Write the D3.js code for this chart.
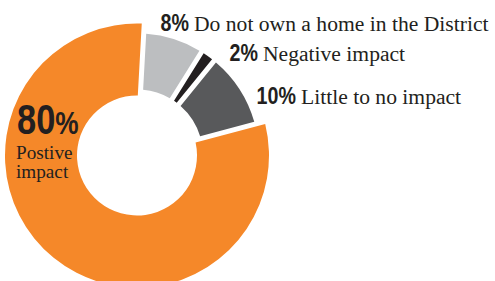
<!DOCTYPE html>
<html>
<head>
<meta charset="utf-8">
<script src="https://cdn.jsdelivr.net/npm/d3@7"></script>
<style>
  html, body { margin: 0; padding: 0; background: #fff; }
  svg { display: block; }
</style>
</head>
<body>
<svg id="chart" width="495" height="281"></svg>
<script>
// ---- data ----
const categories = ["Do not own a home in the District", "Negative impact", "Little to no impact", "Postive impact"];
const values = [8, 2, 10, 80];
const percentLabels = values.map(v => v + "%");

// ---- style / layout ----
const colors = ["#BCBEC0", "#231F20", "#58595B", "#F58829"];
const cx = 137, cy = 155.5;
const startOffset = 0.055;
const textColor = "#231F20";
const boldFont = "'Liberation Sans', Arial, sans-serif";
const narrow = 0.82;
const serifFont = "'Liberation Serif', 'Times New Roman', serif";

const svg = d3.select("#chart");
const g = svg.append("g").attr("transform", `translate(${cx},${cy})`);

const pie = d3.pie().sort(null).value(d => d)
  .startAngle(startOffset).endAngle(startOffset + 2 * Math.PI);
const arcs = pie(values);

const arcBig = d3.arc().innerRadius(60).outerRadius(132).padAngle(0.05).padRadius(100);
const arcSmall = d3.arc().innerRadius(66).outerRadius(122).padAngle(0.05).padRadius(100);

g.selectAll("path.slice")
  .data(arcs)
  .join("path")
  .attr("class", "slice")
  .attr("fill", (d, i) => colors[i])
  .attr("d", (d, i) => (i === 3 ? arcBig(d) : arcSmall(d)));

// ---- labels for the three small slices ----
const labelLayout = [
  { x: 194, y: 31 },
  { x: 263, y: 61 },
  { x: 301, y: 104 }
];
labelLayout.forEach((p, i) => {
  svg.append("text")
    .attr("transform", `translate(${p.x - 5},${p.y}) scale(${narrow},1)`)
    .attr("text-anchor", "end")
    .attr("font-family", boldFont)
    .attr("font-weight", "bold")
    .attr("font-size", 24)
    .attr("fill", textColor)
    .text(percentLabels[i]);
  svg.append("text")
    .attr("x", p.x).attr("y", p.y)
    .attr("font-family", serifFont)
    .attr("font-size", 21.6)
    .attr("fill", textColor)
    .text(categories[i]);
});

// ---- big label ----
const big = svg.append("text")
  .attr("transform", `translate(17,134) scale(${narrow},1)`)
  .attr("font-family", boldFont)
  .attr("font-weight", "bold")
  .attr("fill", textColor);
big.append("tspan").attr("font-size", 42).text(String(values[3]));
big.append("tspan").attr("font-size", 32).text("%");

const words = categories[3].split(" ");
svg.append("text")
  .attr("x", 16).attr("y", 159)
  .attr("font-family", serifFont)
  .attr("font-size", 19.2)
  .attr("fill", textColor)
  .text(words[0]);
svg.append("text")
  .attr("x", 16).attr("y", 178)
  .attr("font-family", serifFont)
  .attr("font-size", 19.2)
  .attr("fill", textColor)
  .text(words[1]);
</script>
</body>
</html>
